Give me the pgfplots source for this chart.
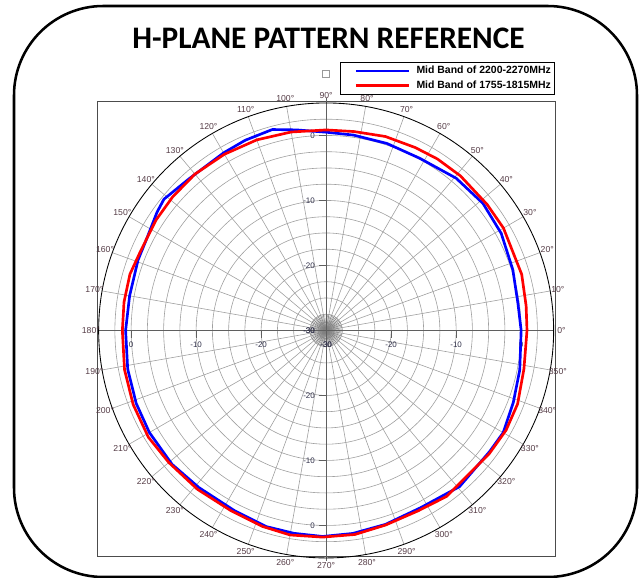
\documentclass[border=0pt]{standalone}
\usepackage{pgfplots}
\pgfplotsset{compat=1.18}
\usepackage{pgfplotstable}
\usepackage{fontspec}
\setmainfont{Liberation Sans}
\newfontfamily\titlefont{Carlito}
\definecolor{angc}{RGB}{85,60,70}
\definecolor{radc}{RGB}{50,50,75}
\definecolor{ringc}{RGB}{160,160,160}
\definecolor{axc}{RGB}{95,95,95}

\pgfplotstableread{
a db
0 0.0
8 -0.2
18 0.2
29 0.8
39 1.05
49.5 0.8
61.5 0.15
72 0.25
82 0.35
90 0.5
98.5 1.2
105 2.0
113 1.8
120 1.55
132 1.45
141 2.1
145 1.75
153 1.0
159.5 0.9
170 0.7
180 0.85
191 1.1
201 1.3
210 1.4
221 1.4
231 1.1
243 1.1
253 1.55
261 1.6
269 1.7
277.5 1.5
287 1.2
298 0.9
310.5 1.6
323.5 1.3
330 1.45
339 0.85
348.5 0.4
360 0.0
}\bluedata

\pgfplotstableread{
a db
0 0.9
7 1.0
16 1.3
30 1.5
38 1.45
49 1.5
57 1.45
64 1.3
73 1.2
82 0.9
90 0.85
100 1.0
110 1.2
120 1.3
130 1.4
139 1.3
147 1.2
157 1.05
164 1.4
172 1.4
180 1.35
191 1.6
201 1.8
211 1.9
220 1.6
231 1.45
242 1.35
252 1.7
260 1.95
269 1.8
278 1.7
287 1.3
297 1.15
306 1.55
315 1.15
323 1.45
331 1.65
339 1.55
349 1.0
360 0.9
}\reddata

\begin{document}
\begin{tikzpicture}
\useasboundingbox (0,0) rectangle (479.25pt,-433.5pt);
\begin{scope}[x=0.75pt,y=-0.75pt]
\draw[line width=1.9pt, rounded corners=67pt] (14,6) rectangle (637,577);
\node[font=\titlefont\bfseries\fontsize{23.5}{27}\selectfont, anchor=base, inner sep=0pt] at (328.5,48.3) {H-PLANE PATTERN REFERENCE};
\draw[gray!80, line width=0.5pt, fill=white] (322,70) rectangle (329,77);
\end{scope}
\begin{axis}[
  at={(73pt,-417pt)}, anchor=south west,
  x=4.875pt, y=4.875pt,
  xmin=-35.2, xmax=35.2, ymin=-34.7, ymax=35.2,
  axis line style={black!70, line width=0.6pt},
  xtick=\empty, ytick=\empty,
  clip=false,
  legend style={at={(axis cs:35.2,41.35)}, anchor=north east, draw=black, line width=0.6pt,
    font=\bfseries\fontsize{7.85}{9}\selectfont, inner xsep=0.75pt, inner ysep=1pt, row sep=0pt,
    /tikz/every even column/.append style={column sep=2pt}},
  legend image code/.code={\path[draw=none] (0pt,0pt) -- (54pt,0pt); \draw[#1] (10.5pt,0pt) -- (50.25pt,0pt);},
]
% rings
\pgfplotsinvokeforeach{2.5,5,...,32.5}{\draw[ringc, line width=0.45pt] (axis cs:0,0) circle[radius=#1];}
% spokes
\pgfplotsinvokeforeach{0,10,...,350}{\draw[ringc, line width=0.45pt] (axis cs:0,0) -- (axis cs:{35*cos(#1)},{35*sin(#1)});}
\pgfplotsinvokeforeach{0,5,...,355}{\draw[ringc!80!black, line width=0.3pt] (axis cs:0,0) -- (axis cs:{2.5*cos(#1)},{2.5*sin(#1)});}
\draw[ringc!80!black, line width=0.3pt] (axis cs:0,0) circle[radius=1.25];
% axes
\draw[axc, line width=0.8pt] (axis cs:-35,0) -- (axis cs:35,0);
\draw[axc, line width=0.8pt] (axis cs:0,-35.5) -- (axis cs:0,35.8);
\pgfplotsinvokeforeach{-30,-20,-10,10,20,30}{
  \draw[axc, line width=0.8pt] (axis cs:#1,0) -- (axis cs:#1,-1.1);
  \draw[axc, line width=0.8pt] (axis cs:0,#1) -- (axis cs:-1.1,#1);
}
% outer circle
\draw[black, line width=0.65pt] (axis cs:0,0) circle[radius=35];
% radial labels
\foreach \r/\t in {0/-30,10/-20,20/-10,30/0}{
  \edef\temp{\noexpand\node[radc, font=\noexpand\fontsize{6}{7}\noexpand\selectfont, inner sep=0pt] at (axis cs:\r,-2.2) {\t};
  \noexpand\node[radc, font=\noexpand\fontsize{6}{7}\noexpand\selectfont, inner sep=0pt] at (axis cs:-\r,-2.2) {\t};
  \noexpand\node[radc, font=\noexpand\fontsize{6}{7}\noexpand\selectfont, inner sep=0pt, anchor=east] at (axis cs:-1.7,\r) {\t};
  \noexpand\node[radc, font=\noexpand\fontsize{6}{7}\noexpand\selectfont, inner sep=0pt, anchor=east] at (axis cs:-1.7,-\r) {\t};}
  \temp
}
% angle labels
\pgfplotsinvokeforeach{0,10,...,350}{\node[angc, font=\fontsize{6.5}{7}\selectfont, inner sep=0pt] at (axis cs:{36.2*cos(#1)},{36.2*sin(#1)}) {#1°};}
% curves
\addplot[color={rgb,255:red,0;green,0;blue,255}, line width=2pt, line join=round] table[x expr={(\thisrow{db}+30)*cos(\thisrow{a})}, y expr={(\thisrow{db}+30)*sin(\thisrow{a})}] {\bluedata};
\addlegendentry{Mid Band of 2200-2270MHz}
\addplot[color={rgb,255:red,255;green,0;blue,0}, line width=2pt, line join=round] table[x expr={(\thisrow{db}+30)*cos(\thisrow{a})}, y expr={(\thisrow{db}+30)*sin(\thisrow{a})}] {\reddata};
\addlegendentry{Mid Band of 1755-1815MHz}
\end{axis}
\end{tikzpicture}
\end{document}
